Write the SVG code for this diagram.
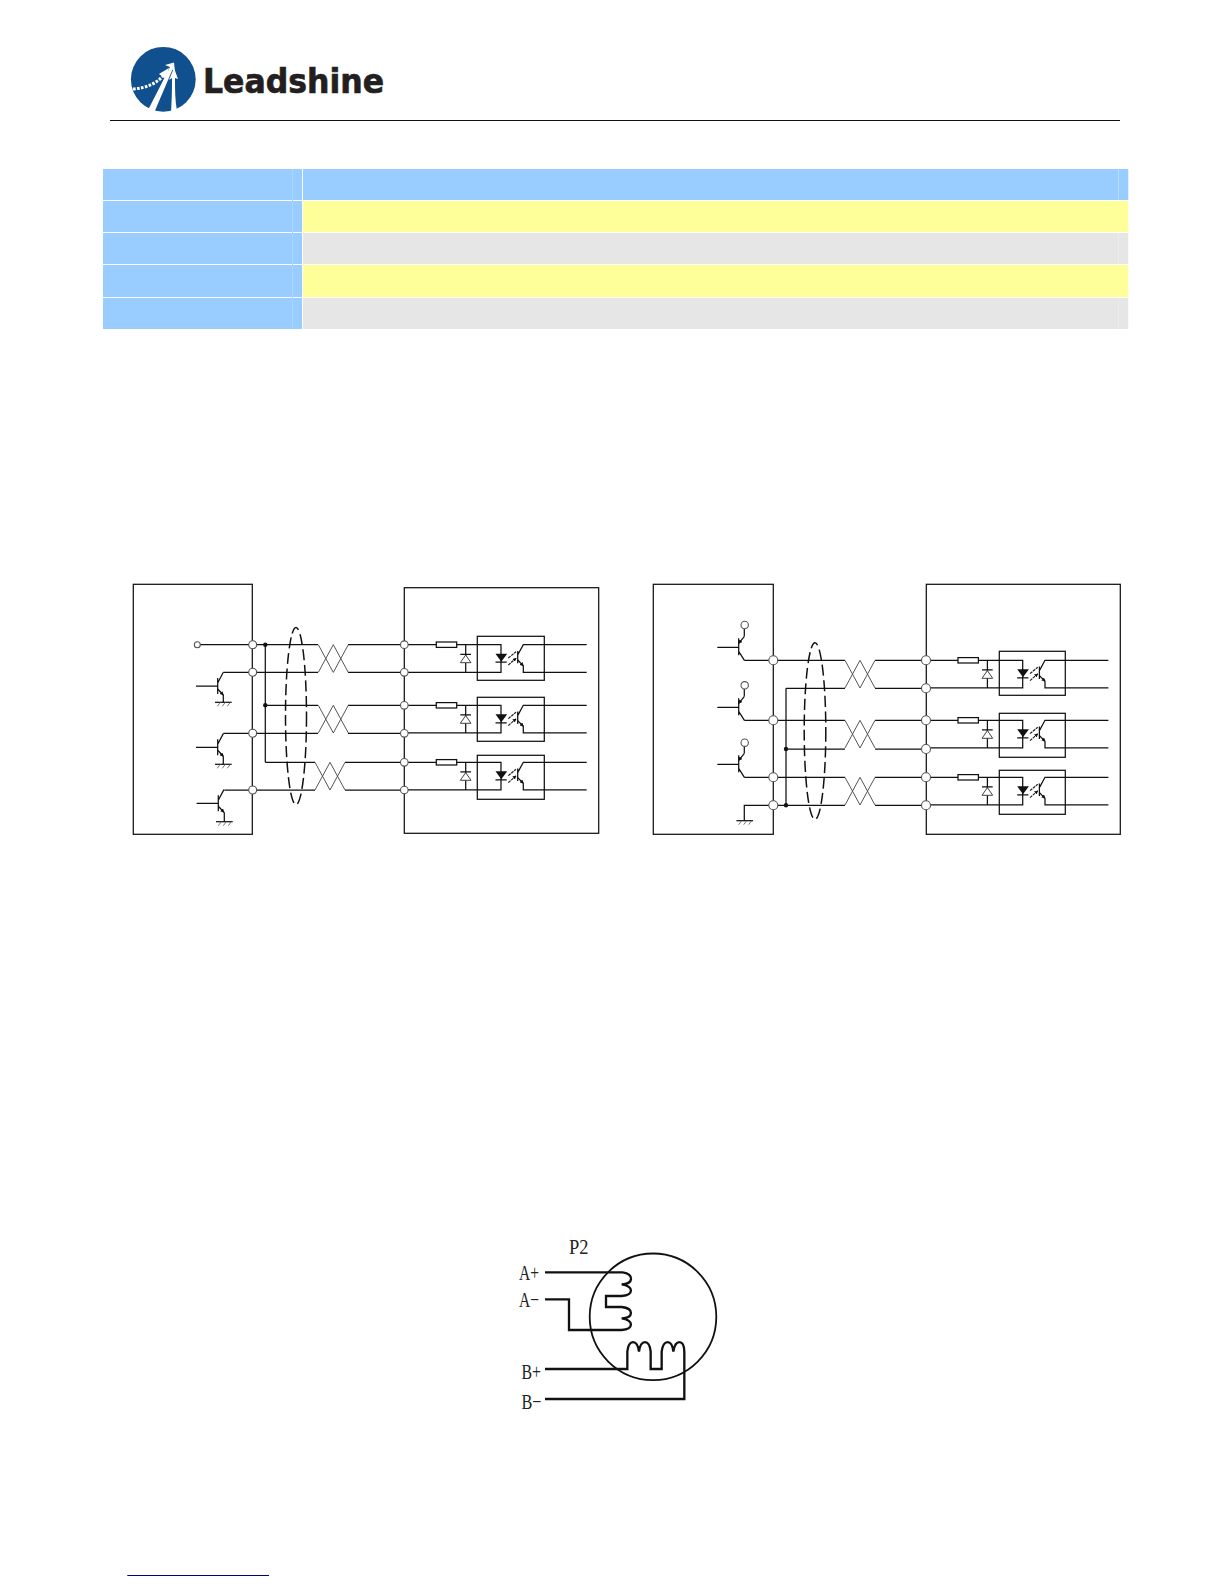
<svg xmlns="http://www.w3.org/2000/svg" xmlns:xlink="http://www.w3.org/1999/xlink" width="1224" height="1584" viewBox="0 0 1224 1584">
<style>
.w{fill:none;stroke:#111;stroke-width:1.25}
.box{fill:none;stroke:#111;stroke-width:1.25}
.tw{fill:none;stroke:#555;stroke-width:1}
.t{fill:#fff;stroke:#555;stroke-width:1.1}
.dot{fill:#111}
.sh{fill:none;stroke:#111;stroke-width:1.5;stroke-dasharray:11 4.5}
.blue{fill:#99CCFF}.yel{fill:#FFFF99}.gry{fill:#E6E6E6}
.lbl{font-family:"Liberation Serif",serif;font-size:22px;fill:#222}
.m{fill:none;stroke:#111;stroke-width:7}
</style>
<defs>
<marker id="ah" viewBox="0 0 6 6" refX="5" refY="3" markerWidth="3.200" markerHeight="3.200" orient="auto"><path d="M0 0L6 3L0 6Z" fill="#111"/></marker>
<g id="opto">
<path class="w" d="M0 0H32M52.400 0H96.700V27.700H0M61.400 0V27.700"/>
<rect x="32" y="-2.700" width="20.400" height="5.400" fill="#fff" stroke="#111" stroke-width="1.250"/>
<path d="M56 18L61.400 10.300L66.700 18Z" fill="#fff" stroke="#444" stroke-width="1"/>
<path class="w" d="M56 9.600H66.700M91.200 17.500H102.400"/>
<path d="M91.200 9H102.900L97 17Z" fill="#111"/>
<path class="w" d="M113.400 6.300V18.600M113.400 10.300L119 0H182.400M119 21V27.700H182.400"/>
<path class="w" d="M113.400 15.300L119 21" marker-end="url(#ah)"/>
<path d="M104 13.300L111.700 7M104 20.300L111.700 13.600" fill="none" stroke="#222" stroke-width="1.200" stroke-dasharray="3 .8" marker-end="url(#ah)"/>
</g>
<g id="npn">
<path class="w" d="M-21.700 0H0M0 -8V8M0 -3L5.600 -13.700"/>
<path class="w" d="M0 3L5.600 9" marker-end="url(#ah)"/>
</g>
<g id="pnp">
<path class="w" d="M-21.400 0H0M0 -9V8M0 4L5.700 13"/>
<path class="w" d="M5.700 -11L0 -4" marker-end="url(#ah)"/>
</g>
<g id="gnd"><path class="w" d="M-8.300 0H8.400"/><path d="M-3 0L-6 4M2 0L-1 4M7 0L4 4" fill="none" stroke="#666" stroke-width=".9"/></g>
<path id="tw" class="tw" d="M0 0L15 27.700L30 0M0 27.700L15 0L30 27.700"/>
</defs>
<rect width="1224" height="1584" fill="#fff"/>

<g id="logo">
<circle cx="163.300" cy="79.300" r="32.400" fill="#10508F"/>
<path d="M147 112L170 67L165 65L174 62.500L175 72L172.500 69.500L154 113Z" fill="#fff"/>
<path d="M171 112C172 98 172 88 172 78L169 80L174 68L178 79L175 78C175 90 175 100 177 111Z" fill="#fff"/>
<path d="M133 89C146 88 156 84 164 75" fill="none" stroke="#fff" stroke-width="3" stroke-dasharray="2.600 1.400"/>
<path d="M159 74L169 68L166 79Z" fill="#fff"/>
<text x="203" y="92.700" font-family="'DejaVu Sans',sans-serif" font-weight="700" font-size="34" textLength="181" lengthAdjust="spacingAndGlyphs" fill="#231F20" stroke="#231F20" stroke-width=".7">Leadshine</text>
</g>
<path id="header-rule" d="M110 120.500H1120" stroke="#111" stroke-width="1" fill="none"/>

<g id="table">
<rect class="blue" x="103" y="169" width="199" height="31"/><rect class="blue" x="303" y="169" width="825.300" height="31"/>
<rect class="blue" x="103" y="201" width="199" height="31"/><rect class="yel" x="303" y="201" width="825.300" height="31"/>
<rect class="blue" x="103" y="233" width="199" height="31"/><rect class="gry" x="303" y="233" width="825.300" height="31"/>
<rect class="blue" x="103" y="265" width="199" height="32"/><rect class="yel" x="303" y="265" width="825.300" height="32"/>
<rect class="blue" x="103" y="298" width="199" height="31"/><rect class="gry" x="303" y="298" width="825.300" height="31"/>
<path d="M292.500 169V329" stroke="#A8D4FF" stroke-width="1" fill="none"/>
<path d="M1118.500 169V200" stroke="#B8DCFF" stroke-width="1" fill="none"/>
<path d="M1118.500 233V264M1118.500 298V329" stroke="#ECECEC" stroke-width="1" fill="none"/>
</g>

<g id="controller-a"><rect class="box" x="133.300" y="584.300" width="119" height="250"/></g>
<g id="driver-a"><rect class="box" x="404.300" y="587.700" width="194.400" height="245.600"/></g>
<g id="controller-b"><rect class="box" x="653.300" y="584.300" width="120" height="250"/></g>
<g id="driver-b"><rect class="box" x="926.300" y="584.300" width="194" height="250"/></g>

<g id="connectors">
<path class="w" d="M200 644.700H318M348 644.700H404M252.700 672.300H318M348 672.300H404M265.300 705.300H318M348 705.300H404M252.700 733.300H318M348 733.300H404M265.300 762.300H315M345 762.300H404M252.700 790H315M345 790H404M265.300 644.700V762.300"/>
<path class="w" d="M223.300 672.300H252.700M223.300 733.300H252.700M224.300 790H252.700M223.300 695V702.300M223.300 756.300V764.300M224.300 812.300V821.700"/>
<use xlink:href="#tw" href="#tw" x="318.300" y="644.700"/>
<use xlink:href="#tw" href="#tw" x="318.300" y="705.300"/>
<use xlink:href="#tw" href="#tw" x="315" y="762.300"/>
<ellipse class="sh" cx="296" cy="716" rx="10.500" ry="88.500"/>
<circle class="dot" cx="265.300" cy="644.700" r="2.200"/><circle class="dot" cx="265.300" cy="705.300" r="2.200"/>
<path class="w" d="M744.300 660.300H845M875 660.300H926M786 688.300H845M875 688.300H926M744.300 720.300H845M875 720.300H926M786 749H845M875 749H926M744.300 777.300H845M875 777.300H926M744.300 820.700V805.300H845M875 805.300H926M786 688.300V805.300"/>
<path class="w" d="M744.300 636.300V628.700M744.300 696.300V689M744.300 753.300V746.400"/>
<use xlink:href="#tw" href="#tw" x="845" y="660.300"/>
<use xlink:href="#tw" href="#tw" x="845" y="720.300"/>
<use xlink:href="#tw" href="#tw" x="845" y="777.300"/>
<ellipse class="sh" cx="815" cy="731" rx="10.800" ry="88.300"/>
<circle class="dot" cx="786" cy="749" r="2.200"/><circle class="dot" cx="786" cy="805.300" r="2.200"/>
</g>

<g id="transistors-a">
<use xlink:href="#npn" href="#npn" x="217.700" y="686"/><use xlink:href="#gnd" href="#gnd" x="223.300" y="702.300"/>
<use xlink:href="#npn" href="#npn" x="217.700" y="747.300"/><use xlink:href="#gnd" href="#gnd" x="223.300" y="764.300"/>
<use xlink:href="#npn" href="#npn" x="218.300" y="803.300"/><use xlink:href="#gnd" href="#gnd" x="224.300" y="821.700"/>
</g>
<g id="transistors-b">
<use xlink:href="#pnp" href="#pnp" x="738.700" y="647.300"/>
<use xlink:href="#pnp" href="#pnp" x="738.700" y="707.300"/>
<use xlink:href="#pnp" href="#pnp" x="738.700" y="764.300"/>
<use xlink:href="#gnd" href="#gnd" x="744.700" y="820.700"/>
<circle class="t" cx="744.700" cy="625" r="3.700"/><circle class="t" cx="744.700" cy="685.300" r="3.700"/><circle class="t" cx="744.700" cy="742.700" r="3.700"/>
</g>

<g id="opto-a1"><use xlink:href="#opto" href="#opto" x="404.300" y="644.700"/><rect class="box" x="477.300" y="636.300" width="67" height="44"/></g>
<g id="opto-a2"><use xlink:href="#opto" href="#opto" x="404.300" y="705.300"/><rect class="box" x="477.300" y="697.300" width="67" height="44"/></g>
<g id="opto-a3"><use xlink:href="#opto" href="#opto" x="404.300" y="762.300"/><rect class="box" x="477.300" y="755.300" width="67" height="44"/></g>
<g id="opto-b1"><use xlink:href="#opto" href="#opto" x="926" y="660.300"/><rect class="box" x="999.300" y="651.300" width="66" height="44"/></g>
<g id="opto-b2"><use xlink:href="#opto" href="#opto" x="926" y="720.300"/><rect class="box" x="999.300" y="713.300" width="66" height="44"/></g>
<g id="opto-b3"><use xlink:href="#opto" href="#opto" x="926" y="777.300"/><rect class="box" x="999.300" y="770.300" width="66" height="44"/></g>

<g id="terminals-a">
<circle class="t" cx="197.300" cy="644.700" r="3"/>
<circle class="t" cx="252.700" cy="644.700" r="4"/><circle class="t" cx="252.700" cy="672.300" r="4"/><circle class="t" cx="252.700" cy="733.300" r="4"/><circle class="t" cx="252.700" cy="790" r="4"/>
<circle class="t" cx="404.300" cy="644.700" r="3.800"/><circle class="t" cx="404.300" cy="672.300" r="3.800"/><circle class="t" cx="404.300" cy="705.300" r="3.800"/><circle class="t" cx="404.300" cy="733.300" r="3.800"/><circle class="t" cx="404.300" cy="762.300" r="3.800"/><circle class="t" cx="404.300" cy="790" r="3.800"/>
</g>
<g id="terminals-b">
<circle class="t" cx="773.300" cy="660.300" r="4.500"/><circle class="t" cx="773.300" cy="720.300" r="4.500"/><circle class="t" cx="773.300" cy="777.300" r="4.500"/><circle class="t" cx="773.300" cy="805.300" r="4.500"/>
<circle class="t" cx="926" cy="660.300" r="4.500"/><circle class="t" cx="926" cy="688.300" r="4.500"/><circle class="t" cx="926" cy="720.300" r="4.500"/><circle class="t" cx="926" cy="749" r="4.500"/><circle class="t" cx="926" cy="777.300" r="4.500"/><circle class="t" cx="926" cy="805.300" r="4.500"/>
</g>

<g id="motor">
<circle cx="653" cy="1316.800" r="63.300" fill="none" stroke="#111" stroke-width="1.800"/>
<g transform="translate(500 1225) scale(.33333)">
<path class="m" d="M135 142H368C402 148 402 176 365 178C402 184 402 210 365 213H318V246H365C402 250 402 278 365 280C402 286 402 312 365 315H207V223H135"/>
<path class="m" d="M135 432H382V380C386 342 412 342 417 380C422 342 448 342 452 380V432H485V380C490 342 516 342 520 380C526 342 552 342 553 380V522H135"/>
</g>
<text class="lbl" x="569" y="1254" textLength="19.500" lengthAdjust="spacingAndGlyphs">P2</text>
<text class="lbl" x="519" y="1279.500" textLength="20" lengthAdjust="spacingAndGlyphs">A+</text>
<text class="lbl" x="519" y="1307" textLength="20" lengthAdjust="spacingAndGlyphs">A−</text>
<text class="lbl" x="521.500" y="1379" textLength="19.500" lengthAdjust="spacingAndGlyphs">B+</text>
<text class="lbl" x="521.500" y="1409" textLength="20" lengthAdjust="spacingAndGlyphs">B−</text>
</g>
<path id="footer-link" d="M127.300 1575.500H269" stroke="#000080" stroke-width="1" fill="none"/>
</svg>
